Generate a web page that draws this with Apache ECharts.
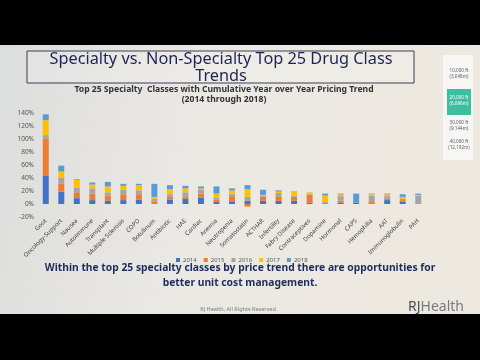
<!DOCTYPE html>
<html>
<head>
<meta charset="utf-8">
<script src="https://cdn.jsdelivr.net/npm/echarts@6/dist/echarts.min.js"></script>
<style>
  html, body { margin: 0; padding: 0; background: #000; }
  #main { width: 480px; height: 360px; }
</style>
</head>
<body>
<div id="main"></div>
<script>
// 药品类别 (top 25 specialty classes)
var categories = ['Gout', 'Oncology-Support', 'Nausea', 'Autoimmune', 'Transplant', 'Multiple Sclerosis',
  'COPD', 'Botulinum', 'Antibiotic', 'HAE', 'Cardiac', 'Anemia', 'Neutropenia', 'Somatostatin',
  'ACTHAR', 'Infertility', 'Fabry Disease', 'Contraceptives', 'Dopamine', 'Hormonal', 'CAPS',
  'Hemophilia', 'AAT', 'Immunoglobulin', 'PAH'];
var years = ['2014', '2015', '2016', '2017', '2018'];
// yearly trend, percent
var s2014 = [44, 19, 9, 6, 5, 6, 7, 1, 7, 8, 10, 3, 4, 5, 5, 5, 5, 2, 1, 2, 2, 1, 6, 4, 0];
var s2015 = [57, 12, 9, 10, 8, 9, 8, 3, 4, 3, 6, 4, 8, -4, 6, 7, 6, 12, 0, 3, 0, 2, 2, 2, 0];
var s2016 = [5, 9, 7, 8, 5, 7, 6, 4, 4, 7, 6, 3, 4, 6, 2, 5, 2, 1, 2, 7, 0, 10, 4, 2, 13];
var s2017 = [23, 10, 12, 6, 9, 6, 8, 3, 8, 6, 2, 6, 5, 12, 1, 2, 7, 3, 10, 3, 0, 2, 3, 3, 1];
var s2018 = [9, 9, 1, 3, 7, 3, 2, 20, 6, 4, 3, 11, 3, 6, 8, 2, 0, 0, 3, 1, 14, 1, 1, 4, 2];
var yTicks = [-20, 140, 20]; // min, max, interval
var altitudes = [['10,000 ft', '(3,048m)'], ['20,000 ft', '(6,096m)'], ['30,000 ft', '(9,144m)'], ['40,000 ft', '(12,192m)']];

var colors = ['#4472C4', '#ED7D31', '#A5A5A5', '#FFC000', '#5B9BD5'];
var seriesData = [s2014, s2015, s2016, s2017, s2018];
var FONT = '"Noto Sans", sans-serif';

var chart = echarts.init(document.getElementById('main'), null, { renderer: 'canvas' });

function txt(text, x, y, size, color, weight, align) {
  return {
    type: 'text',
    z: 5,
    style: {
      text: text, x: x, y: y,
      font: (weight || 'normal') + ' ' + size + 'px ' + FONT,
      fill: color,
      textAlign: align || 'center',
      textVerticalAlign: 'middle'
    }
  };
}

var graphics = [
  // slide background
  {
    type: 'rect', z: -10,
    shape: { x: 0, y: 45, width: 480, height: 269 },
    style: {
      fill: new echarts.graphic.LinearGradient(0, 0, 1, 0.3, [
        { offset: 0, color: '#dcdddd' },
        { offset: 0.45, color: '#ebe9e4' },
        { offset: 1, color: '#ede8df' }
      ])
    }
  },
  // title box
  {
    type: 'rect', z: 1,
    shape: { x: 27, y: 51, width: 387, height: 32 },
    style: { fill: 'rgba(255,255,255,0.15)', stroke: '#3c3f55', lineWidth: 1 }
  },
  txt('Specialty vs. Non-Specialty Top 25 Drug Class', 221, 59, 16.3, '#1f2456', 'normal'),
  txt('Trends', 221, 76, 16.3, '#1f2456', 'normal'),
  txt('Top 25 Specialty  Classes with Cumulative Year over Year Pricing Trend', 224, 90, 8.6, '#333333', 'bold'),
  txt('(2014 through 2018)', 224, 100, 8.6, '#333333', 'bold'),
  txt('Within the top 25 specialty classes by price trend there are opportunities for', 240, 268, 10.3, '#1f2d5c', 'bold'),
  txt('better unit cost management.', 240, 283, 10.3, '#1f2d5c', 'bold'),
  txt('RJ Health, All Rights Reserved', 238, 309, 5.5, '#7a7a7a', 'normal'),
  {
    type: 'text', z: 5,
    style: {
      x: 436, y: 307,
      text: '{a|RJ}{b|Health}',
      textAlign: 'center',
      textVerticalAlign: 'middle',
      rich: {
        a: { fontSize: 14, fontFamily: FONT, fill: '#4a4e56' },
        b: { fontSize: 14, fontFamily: FONT, fill: '#777b80' }
      }
    }
  },
  // altitude strip
  {
    type: 'rect', z: 1,
    shape: { x: 443, y: 55, width: 30, height: 105 },
    style: { fill: '#f7f6f3' }
  },
  {
    type: 'rect', z: 2,
    shape: { x: 447, y: 89, width: 24, height: 26 },
    style: { fill: '#3dbf9f' }
  }
];
var altY = [71, 98, 123, 142];
altitudes.forEach(function (a, i) {
  var c = i === 1 ? '#ffffff' : '#5a6070';
  graphics.push(txt(a[0], 459, altY[i], 4.6, c, 'normal'));
  graphics.push(txt(a[1], 459, altY[i] + 5.5, 4.6, c, 'normal'));
});

var option = {
  backgroundColor: '#000000',
  color: colors,
  animation: false,
  textStyle: { fontFamily: FONT },
  graphic: graphics,
  legend: {
    data: years,
    left: 171,
    top: 252,
    itemWidth: 4,
    itemHeight: 4,
    itemGap: 7,
    icon: 'rect',
    textStyle: { fontSize: 6, color: '#595959', padding: [0, 0, 0, -2] }
  },
  grid: { left: 38, right: 54, top: 113, bottom: 143, containLabel: false },
  xAxis: {
    type: 'category',
    data: categories,
    axisLine: { show: false },
    axisTick: { show: false },
    axisLabel: {
      rotate: 45,
      interval: 0,
      fontSize: 6,
      color: '#404040',
      margin: 3
    }
  },
  yAxis: {
    type: 'value',
    min: yTicks[0],
    max: yTicks[1],
    interval: yTicks[2],
    axisLine: { show: false },
    axisTick: { show: false },
    splitLine: { show: false },
    axisLabel: {
      fontSize: 6.5,
      color: '#555555',
      margin: 4,
      formatter: function (v) { return v + '%'; }
    }
  },
  series: years.map(function (y, i) {
    return {
      name: y,
      type: 'bar',
      stack: 'total',
      barWidth: 6,
      data: seriesData[i]
    };
  })
};

chart.setOption(option);
</script>
</body>
</html>
